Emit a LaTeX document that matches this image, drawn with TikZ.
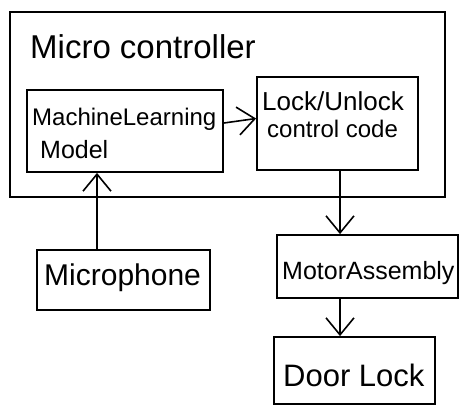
\documentclass[tikz,border=0pt]{standalone}
\usepackage{fontspec}
\setmainfont{Liberation Sans}
\usetikzlibrary{arrows.meta}
\begin{document}
\begin{tikzpicture}[x=1pt,y=-1pt,
  box/.style={draw, line width=1.8pt, inner sep=0pt},
  txt/.style={anchor=base west, inner sep=0pt},
  conn/.style={line width=1.6pt, -{Straight Barb[length=17pt, width=28pt]}}]
\useasboundingbox (0,0) rectangle (462,407);

% containers and blocks
\node[box, minimum width=435pt, minimum height=185pt] (mcu)   at (227.5,104.5) {};
\node[box, minimum width=196pt, minimum height=82pt]  (ml)    at (125,131) {};
\node[box, minimum width=161pt, minimum height=93pt]  (lock)  at (337.5,123.5) {};
\node[box, minimum width=173pt, minimum height=60pt]  (mic)   at (123.5,280) {};
\node[box, minimum width=181pt, minimum height=63pt]  (motor) at (367.5,266.5) {};
\node[box, minimum width=161pt, minimum height=67pt]  (door)  at (354.5,370.5) {};

% labels
\node[txt, font=\fontsize{33}{33}\selectfont] (mcutxt) at (30,58) {Micro controller};
\node[txt, font=\fontsize{24}{24}\selectfont] (mltxt1) at (32,125) {MachineLearning};
\node[txt, font=\fontsize{25}{25}\selectfont] (mltxt2) at (40,158) {Model};
\node[txt, font=\fontsize{26}{26}\selectfont] (locktxt1) at (262,110) {Lock/Unlock};
\node[txt, font=\fontsize{24}{24}\selectfont] (locktxt2) at (267,137) {control code};
\node[txt, font=\fontsize{30}{30}\selectfont] (mictxt) at (44,285) {Microphone};
\node[txt, font=\fontsize{25}{25}\selectfont] (motortxt) at (282,279) {MotorAssembly};
\node[txt, font=\fontsize{31}{31}\selectfont] (doortxt) at (283,386) {Door Lock};

% signal flow
\draw[conn] ([yshift=8pt]ml.east) -- ([yshift=5pt]lock.west);
\draw[conn] ([xshift=-26.5pt]mic.north) -- ([xshift=-28pt]ml.south);
\draw[conn] ([xshift=2.5pt]lock.south) -- ([xshift=-27.5pt]motor.north);
\draw[conn] ([xshift=-27.5pt]motor.south) -- ([xshift=-14.5pt]door.north);
\end{tikzpicture}
\end{document}
